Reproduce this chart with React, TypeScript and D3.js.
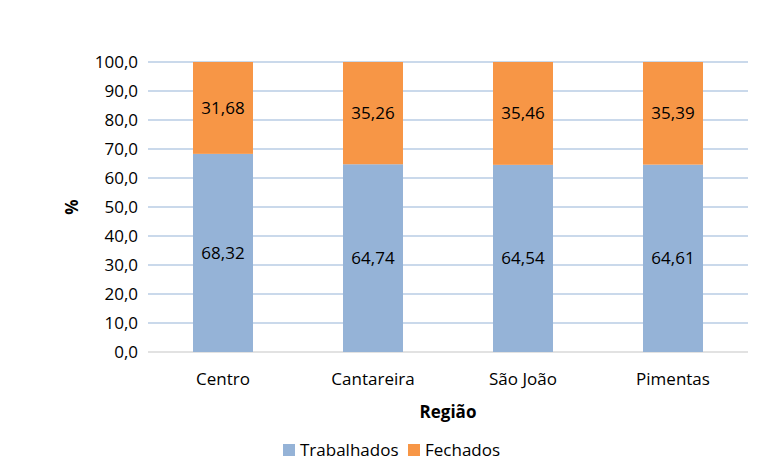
import { useEffect, useRef } from "react";
import * as d3 from "d3";

const regions = ["Centro", "Cantareira", "São João", "Pimentas"];
const trabalhados = [68.32, 64.74, 64.54, 64.61];
const fechados = [31.68, 35.26, 35.46, 35.39];
const yTicks = [0, 10, 20, 30, 40, 50, 60, 70, 80, 90, 100];

const BLUE = "#95b3d7";
const ORANGE = "#f79646";
const FONT = "'Open Sans', Lato, sans-serif";
const FS = 17;

export default function App() {
  const ref = useRef<SVGSVGElement>(null);
  useEffect(() => {
    const svg = d3.select(ref.current);
    svg.selectAll("*").remove();
    const left = 148;
    const right = 748;
    const top = 62;
    const bottom = 352;

    const x = d3.scaleBand().domain(regions).range([left, right]).paddingInner(0.6).paddingOuter(0.3);
    const y = d3.scaleLinear().domain([0, 100]).range([bottom, top]);
    const fmt = (v: number) => v.toFixed(1).replace(".", ",");
    const fmt2 = (v: number) => v.toFixed(2).replace(".", ",");

    // gridlines
    svg
      .append("g")
      .selectAll("line")
      .data(yTicks.filter((t) => t > 0))
      .join("line")
      .attr("x1", left)
      .attr("x2", right)
      .attr("y1", (d) => y(d))
      .attr("y2", (d) => y(d))
      .attr("stroke", "#b9cde5")
      .attr("stroke-width", 1.3);
    svg
      .append("line")
      .attr("x1", left)
      .attr("x2", right)
      .attr("y1", y(0))
      .attr("y2", y(0))
      .attr("stroke", "#d9d9d9")
      .attr("stroke-width", 1.3);

    // y tick labels
    svg
      .append("g")
      .selectAll("text")
      .data(yTicks)
      .join("text")
      .attr("x", left - 10)
      .attr("y", (d) => y(d))
      .attr("dy", "0.35em")
      .attr("text-anchor", "end")
      .attr("font-family", FONT)
      .attr("font-size", FS)
      .attr("fill", "#000")
      .text((d) => fmt(d));

    const rows = regions.map((r, i) => ({ r, t: trabalhados[i], f: fechados[i] }));
    const g = svg.append("g");
    g.selectAll("rect.t")
      .data(rows)
      .join("rect")
      .attr("class", "t")
      .attr("x", (d) => x(d.r)!)
      .attr("width", x.bandwidth())
      .attr("y", (d) => y(d.t))
      .attr("height", (d) => y(0) - y(d.t))
      .attr("fill", BLUE);
    g.selectAll("rect.f")
      .data(rows)
      .join("rect")
      .attr("class", "f")
      .attr("x", (d) => x(d.r)!)
      .attr("width", x.bandwidth())
      .attr("y", (d) => y(d.t + d.f))
      .attr("height", (d) => y(d.t) - y(d.t + d.f))
      .attr("fill", ORANGE);

    g.selectAll("text.tl")
      .data(rows)
      .join("text")
      .attr("class", "tl")
      .attr("x", (d) => x(d.r)! + x.bandwidth() / 2)
      .attr("y", (d) => y(d.t / 2))
      .attr("dy", "0.35em")
      .attr("text-anchor", "middle")
      .attr("font-family", FONT)
      .attr("font-size", FS)
      .text((d) => fmt2(d.t));
    g.selectAll("text.fl")
      .data(rows)
      .join("text")
      .attr("class", "fl")
      .attr("x", (d) => x(d.r)! + x.bandwidth() / 2)
      .attr("y", (d) => y(d.t + d.f / 2))
      .attr("dy", "0.35em")
      .attr("text-anchor", "middle")
      .attr("font-family", FONT)
      .attr("font-size", FS)
      .text((d) => fmt2(d.f));

    // x labels
    svg
      .append("g")
      .selectAll("text")
      .data(regions)
      .join("text")
      .attr("x", (d) => x(d)! + x.bandwidth() / 2)
      .attr("y", 379)
      .attr("dy", "0.35em")
      .attr("text-anchor", "middle")
      .attr("font-family", FONT)
      .attr("font-size", FS)
      .text((d) => d);

    svg
      .append("text")
      .attr("x", (left + right) / 2)
      .attr("y", 412)
      .attr("dy", "0.35em")
      .attr("text-anchor", "middle")
      .attr("font-family", FONT)
      .attr("font-size", FS)
      .attr("font-weight", "bold")
      .text("Região");

    svg
      .append("text")
      .attr("transform", `translate(72,${(top + bottom) / 2}) rotate(-90)`)
      .attr("dy", "0.35em")
      .attr("text-anchor", "middle")
      .attr("font-family", FONT)
      .attr("font-size", FS)
      .attr("font-weight", "bold")
      .text("%");

    // legend
    const legend = [
      { name: "Trabalhados", color: BLUE, x: 283 },
      { name: "Fechados", color: ORANGE, x: 408 },
    ];
    const lg = svg.append("g");
    lg.selectAll("rect")
      .data(legend)
      .join("rect")
      .attr("x", (d) => d.x)
      .attr("y", 444)
      .attr("width", 12)
      .attr("height", 12)
      .attr("fill", (d) => d.color);
    lg.selectAll("text")
      .data(legend)
      .join("text")
      .attr("x", (d) => d.x + 17)
      .attr("y", 450)
      .attr("dy", "0.35em")
      .attr("font-family", FONT)
      .attr("font-size", FS)
      .text((d) => d.name);
  }, []);

  return (
    <svg
      ref={ref}
      width={776}
      height={461}
      style={{ position: "absolute", left: 0, top: 0, background: "#fff" }}
    />
  );
}
